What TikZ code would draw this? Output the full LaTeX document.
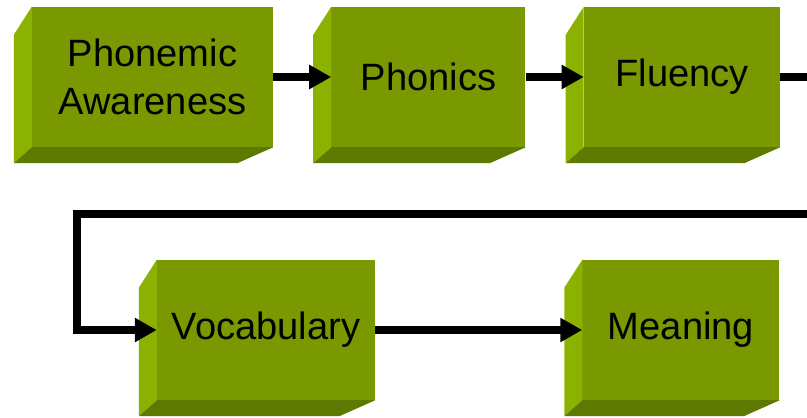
\documentclass[tikz,border=0pt]{standalone}
\usepackage{fontspec}
\setmainfont{Liberation Sans}
\usepackage{tikz}
\definecolor{slabfront}{RGB}{122,153,0}
\definecolor{slableft}{RGB}{139,178,0}
\definecolor{slabbottom}{RGB}{94,121,0}
\tikzstyle{slab}=[rectangle,fill=slabfront,inner sep=0pt,minimum height=4.2cm,
align=center,font=\fontsize{32.5}{41}\selectfont]
\tikzstyle{leftface}=[fill=slableft]
\tikzstyle{bottomface}=[fill=slabbottom]
\tikzstyle{flow}=[line width=0.24cm,-{Triangle[length=0.66cm,width=0.69cm]}]
\usetikzlibrary{arrows.meta,positioning}

\begin{document}
\begin{tikzpicture}[x=0.03cm,y=-0.03cm]
            \useasboundingbox (0,0) rectangle (807,417);
            \clip (0,0) rectangle (807,417);

            % TOP ROW

            \node[slab,minimum width=7.23cm] (pa) at (152.5,77) {Phonemic\\Awareness};
            \node[slab,minimum width=5.82cm,right=1.74cm of pa] (ph) {Phonics};
            \node[slab,minimum width=5.88cm,right=1.74cm of ph] (fl) {Fluency};

            % BOTTOM ROW

            \node[slab,minimum width=6.54cm] (vo) at (266,330) {Vocabulary};
            \node[slab,minimum width=5.91cm,right=6.21cm of vo] (me) {Meaning};

            % SIDES OF THE SLABS

            \foreach \b in {pa,ph,fl,vo,me} {
              \fill[leftface] (\b.north west) -- ++(-18,28) -- ([shift={(-18,16)}]\b.south west) -- (\b.south west) -- cycle;
              \fill[bottomface] (\b.south west) -- ++(-18,16) -- ([shift={(-36,16)}]\b.south east) -- (\b.south east) -- cycle;
            }

            % ARROWS

            \coordinate (turnR) at (811,214);
            \coordinate (turnL) at (77,214);

            \path[flow] (pa) edge (ph);
            \path[flow] (ph) edge (fl);
            \draw[flow] (fl.east) -| (turnR) -- (turnL) |- (vo.west);
            \path[flow] (vo) edge (me);

\end{tikzpicture}
\end{document}
